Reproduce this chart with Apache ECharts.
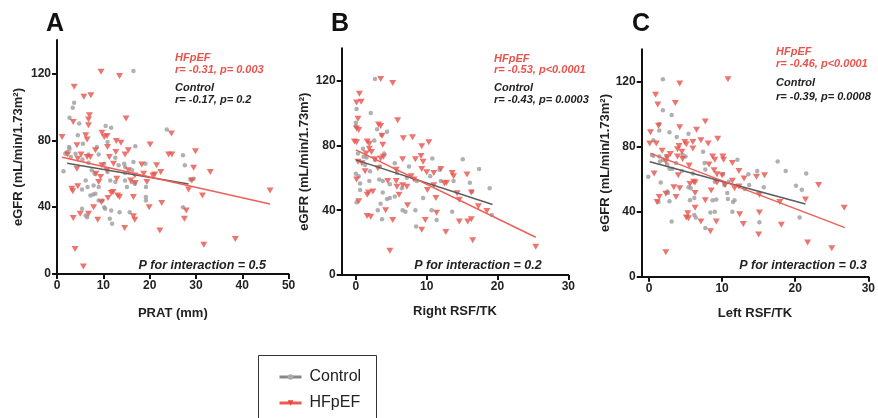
<!DOCTYPE html>
<html><head><meta charset="utf-8">
<script src="https://cdn.jsdelivr.net/npm/echarts@6/dist/echarts.min.js"></script>
<style>html,body{margin:0;padding:0;background:#fff}#c{width:878px;height:418px}</style>
</head><body><div id="c"></div>
<script>
// ---- data ----
const seriesNames = ['Control', 'HFpEF'];
const xNames = ['PRAT (mm)', 'Right RSF/TK', 'Left RSF/TK'];
const yName = 'eGFR (mL/min/1.73m²)';
const panelLetters = ['A', 'B', 'C'];
const xTickValues = [[0, 10, 20, 30, 40, 50], [0, 10, 20, 30], [0, 10, 20, 30]];
const yTickValues = [0, 40, 80, 120];

const hfA = [[1.1,82],[9.5,121],[13.5,118.5],[3.7,112],[5.8,106],[7.3,107],[14.9,93],[7.0,95],[6.8,92.5],[3.5,91],[6.8,89],[6.2,83],[6.5,80.5],[9.7,84.5],[10.2,82],[10.8,82.5],[10.9,76],[12.8,79.5],[13.8,78.5],[20.1,77.5],[24.7,84],[24.1,71.5],[24.8,71.5],[29.9,73.5],[21.5,65],[29.5,63.5],[33.1,61],[29.1,56],[28.4,50.5],[31.4,47],[46,50],[27.9,38],[27.5,33],[19.9,40],[22.6,42.5],[22.2,26],[31.7,17.5],[38.5,21],[3.9,15],[5.7,4.5],[3.5,33.5],[3.4,49.5],[3.2,51],[4.5,52.5],[5.0,36],[6.8,36],[7.9,40],[8.8,32.5],[9.6,43],[11.0,45.5],[11.7,48.5],[12.1,49],[13.1,47],[13.5,46],[14.6,27.5],[16.5,34.5],[16.8,32.5],[16.5,46],[12.9,57],[10.8,62],[9.4,58],[8.4,60],[9.0,55],[9.7,65],[11.3,70],[12.7,73],[14.7,71.5],[15.4,74],[15.4,62],[15.9,56],[16.8,59],[16.9,54.5],[18.7,60],[18.3,65.5],[19.4,55],[20.7,59],[21.1,59.5],[22.4,61],[4.3,77],[5.2,71.5],[4.3,63],[6.5,70],[7.2,70],[2.3,71.5],[4.5,69],[8.3,74],[12.2,66]];
const ctrlA = [[16.5,121.5],[3.7,102.5],[3.4,99.5],[2.7,93.5],[4.8,90],[4.5,83],[10.5,88.5],[11.7,87.5],[23.7,86.5],[5.6,78],[16.9,76.5],[2.6,76],[2.2,73],[2.7,75],[1.4,61.5],[1.8,72],[5.5,68.5],[6.8,71.5],[9.0,71.5],[8.6,76],[10.9,79],[6.8,66.5],[12.6,69.5],[13.3,65],[10.2,66],[10.9,61],[14.5,66],[14.7,64],[16.5,67],[14.7,60.5],[16.2,62],[19.1,66],[27.2,71],[27.6,65],[28.8,56.5],[29.5,57],[27.2,40],[19.2,44],[19.2,46],[19.2,52],[16.2,55],[16.8,54],[14.7,56],[15.1,52],[12.6,55],[11.5,56],[8.1,60],[7.9,53],[6.6,52],[6.2,56],[5.4,50.5],[7.2,47],[7.8,47.5],[8.3,48],[9,52],[9,44],[9.8,44],[10.2,40],[10.4,39],[11.7,38],[13.5,37],[15.7,37],[11.4,33],[11.9,30],[6.5,34],[6.2,35],[5.4,39],[3.0,70],[4.0,72],[7.5,62]];
const fitCtrlA = [[2.2,66.2],[28.4,53.8]];
const fitHfA = [[1.1,69.8],[46,41.9]];

const hfB = [[3.5,121],[5.2,118.5],[0.5,112],[0.75,107],[0.1,106.5],[0.3,96.5],[0.1,90.5],[0.4,89.5],[3.2,93],[3.5,92],[5.9,95.5],[-0.2,82.5],[0.1,82],[3.7,86],[3.8,80.5],[1.6,82.5],[1.9,81],[1.9,78],[2.2,76],[1.45,75],[0.3,70],[0.1,59],[0.4,45.5],[1.3,64],[2.7,71.5],[3.5,72],[3.9,73],[6.7,84.5],[8.0,85],[9.3,79.5],[10.3,82],[6.6,71.5],[8.4,71.5],[9.2,73.5],[9.5,70],[9.3,65.5],[10.0,63.5],[11.0,63],[12.0,65.5],[13.6,63],[13.8,61],[15.7,62],[8.2,59],[7.8,61],[5.7,65],[4.5,58],[5.7,58],[5.8,54.5],[6.6,55.5],[6.1,49.5],[7.2,54.5],[10.1,52.5],[11.0,55.5],[12.5,56.5],[12.8,57],[11.3,47.5],[14.3,50.5],[14.6,46.5],[16.3,51],[17.3,42.5],[18.5,39.5],[11.4,38.5],[7.3,43],[4.2,40],[1.6,36.5],[2.1,36],[1.6,49.5],[1.8,51],[2.4,51.5],[5.2,34],[9.8,34],[9.3,28],[12.7,26.5],[14.6,33],[15.8,33],[16.3,34.5],[16.5,21.5],[4.8,15],[25.4,17.5],[0.85,69],[3.1,66]];
const ctrlB = [[2.7,121],[0.1,102.5],[2.1,100],[0,94],[0,92],[3.0,90],[4.4,88.5],[3.6,86.5],[2.6,83],[1.0,78],[0.3,75],[1.1,73],[1.5,72.5],[4.0,75],[2.7,71],[3.4,67],[0,62.5],[0.4,61],[0.6,56.5],[1.9,58],[5.5,69],[7.5,67],[7.2,60],[8.6,58],[10.5,61],[10.8,72],[11.8,65],[12.0,58],[13.8,58],[15.1,71.5],[17.4,65.5],[16.1,57],[16.4,51.5],[18.9,53.5],[19.2,37],[13.6,39],[11.4,34],[10.7,40],[9.5,47.5],[8.4,40],[6.6,40],[7.0,39],[4.4,47],[4.8,47.5],[5.5,48.5],[3.8,51],[3.5,44],[3.1,40],[3.7,34.5],[0.1,45],[0.6,52.5],[8.5,30],[4.8,56],[5.8,63],[3.3,59],[3.8,58],[6.5,53.5],[2.0,64],[1.3,68]];
const fitCtrlB = [[0,71.1],[19.3,43.5]];
const fitHfB = [[0,77.3],[25.4,23.3]];

const hfC = [[10.8,121.5],[4.2,119],[0.9,112],[1.2,106],[3.6,107],[1.3,93],[4.2,92],[0.2,89],[7.7,95.5],[6.5,90.5],[0.1,82],[1.0,82],[4.1,80.5],[3.9,78.5],[4.9,83],[5.1,81.5],[6.0,83],[7.1,84],[8.1,82],[9.4,85],[6.0,79],[4.5,77],[1.8,77.5],[2.9,75.5],[2.5,73.5],[2.3,71],[3.9,74],[4.6,72.5],[5.5,68.5],[8.7,74],[9.0,72],[10.1,74],[10.2,72],[11.4,70],[8.2,69],[0.7,63.5],[4.0,62.5],[6.1,58.5],[6.3,58],[10.0,62.5],[11.4,59],[12.3,65],[13.0,60.5],[14.7,61.5],[15.8,62.5],[8.9,65.5],[9.3,63],[10.4,56.5],[12.3,55.5],[11.7,54.5],[9.3,58],[8.5,53],[7.7,47],[6.3,51.5],[5.6,57],[4.2,54.5],[3.4,55],[1.4,49],[1.1,46],[2.3,51],[3.7,49],[5.3,39],[5.1,36.5],[5.4,36],[6.3,42.5],[7.1,34],[9.2,34],[8.4,28],[12.4,38.5],[12.9,32.5],[15.1,39.5],[15.0,26],[15.1,50.5],[17.9,46],[18.1,32],[21.4,47.5],[23.2,56.5],[26.7,42.5],[21.7,21],[25.0,17.5],[2.3,15]];
const ctrlC = [[1.9,121.5],[1.9,102.5],[3.1,99.5],[1.4,94],[1.4,90],[2.8,89],[3.8,86],[5.4,88],[0.6,84],[-0.1,61.5],[0.4,75],[0.6,74.5],[1.4,74],[1.5,71],[1.9,72],[2.4,74],[2.5,69],[2.8,66.5],[3.2,66.5],[4.6,75],[5.0,74],[4.5,65],[3.7,70],[1.6,58],[1.3,46],[2.5,52.5],[2.6,51.5],[2.8,46.5],[3.1,34],[5.4,55],[5.7,54.5],[6.0,63.5],[7.4,77],[7.6,70],[7.7,66],[6.2,48.5],[5.6,47],[6.2,38],[6.4,36.5],[7.7,30],[8.4,39.5],[9.0,40],[8.7,47],[9.2,47.5],[9.0,58.5],[10.1,63],[10.9,58.5],[10.3,56.5],[11.5,46],[11.7,47],[10.8,47.8],[11.4,40],[12.1,72],[10.7,51.5],[13.1,54],[13.6,63],[13.7,56.5],[14.8,65],[15.7,55],[15.1,33.5],[17.6,71],[18.7,65],[20.1,56],[20.9,53.5],[21.5,63.5],[20.6,36.5]];
const fitCtrlC = [[0.1,70.8],[21.4,44.7]];
const fitHfC = [[0.2,75.9],[26.8,30.2]];

const annHf = ['r= -0.31, p= 0.003', 'r= -0.53, p<0.0001', 'r= -0.46, p<0.0001'];
const annCtrl = ['r= -0.17, p= 0.2', 'r= -0.43, p= 0.0003', 'r= -0.39, p= 0.0008'];
const annInteraction = ['P for interaction = 0.5', 'P for interaction = 0.2', 'P for interaction = 0.3'];

// ---- layout / style ----
const FONT = '"Liberation Sans", Arial, sans-serif';
const RED = '#E9534B', RED_LINE = '#EE5F57', GREY = '#9c9c9c', GREY_LINE = '#5c5c5c';
const TRI = 'path://M0,0L10,0L5,8Z';
const grids = [
  {left: 57, top: 40, width: 231.6, height: 234},
  {left: 341.7, top: 48.3, width: 226.6, height: 226.7},
  {left: 641.7, top: 49.3, width: 228.3, height: 227.4}
];
const xRanges = [[0, 50], [-2, 30], [-1, 30]];
const xNameGaps = [33, 30, 30];
const yNameGaps = [32, 31, 29];
const hfData = [hfA, hfB, hfC], ctrlData = [ctrlA, ctrlB, ctrlC];
const fitsCtrl = [fitCtrlA, fitCtrlB, fitCtrlC], fitsHf = [fitHfA, fitHfB, fitHfC];

const axisCommon = {
  axisLine: {show: true, onZero: false, lineStyle: {color: '#111', width: 2}},
  axisTick: {show: true, inside: false, length: 5, lineStyle: {color: '#111', width: 2}},
  splitLine: {show: false},
  nameTextStyle: {fontFamily: FONT, fontWeight: 'bold', fontSize: 13, color: '#222'}
};

const xAxis = [], yAxis = [], series = [];
for (let i = 0; i < 3; i++) {
  xAxis.push(Object.assign({}, axisCommon, {
    type: 'value', gridIndex: i, min: xRanges[i][0], max: xRanges[i][1],
    name: xNames[i], nameLocation: 'middle', nameGap: xNameGaps[i],
    axisTick: Object.assign({}, axisCommon.axisTick, {customValues: xTickValues[i]}),
    axisLabel: {customValues: xTickValues[i], fontFamily: FONT, fontWeight: 'bold', fontSize: 12, color: '#222', margin: 6}
  }));
  yAxis.push(Object.assign({}, axisCommon, {
    type: 'value', gridIndex: i, min: 0, max: 140,
    name: yName, nameLocation: 'middle', nameGap: yNameGaps[i], nameRotate: 90,
    axisTick: Object.assign({}, axisCommon.axisTick, {customValues: yTickValues}),
    axisLabel: {customValues: yTickValues, fontFamily: FONT, fontWeight: 'bold', fontSize: 12, color: '#222', margin: 6}
  }));
}
// regression lines first so the legend takes its icons from them
for (let i = 0; i < 3; i++) {
  series.push({name: 'Control', type: 'line', xAxisIndex: i, yAxisIndex: i, data: fitsCtrl[i],
    symbol: 'circle', showSymbol: false, color: GREY_LINE, lineStyle: {color: GREY_LINE, width: 1.5}, z: 5, silent: true});
  series.push({name: 'HFpEF', type: 'line', xAxisIndex: i, yAxisIndex: i, data: fitsHf[i],
    symbol: TRI, showSymbol: false, color: RED_LINE, lineStyle: {color: RED_LINE, width: 1.5}, z: 5, silent: true});
}
for (let i = 0; i < 3; i++) {
  series.push({name: 'Control', type: 'scatter', xAxisIndex: i, yAxisIndex: i, data: ctrlData[i],
    symbol: 'circle', symbolSize: 4.5, itemStyle: {color: GREY}, z: 2});
  series.push({name: 'HFpEF', type: 'scatter', xAxisIndex: i, yAxisIndex: i, data: hfData[i],
    symbol: TRI, symbolSize: [7, 6], itemStyle: {color: RED}, z: 3});
}

const letterPos = [[55, 24], [340, 24], [641, 24]];
const annX = [175, 494, 776];
const annY = [[58, 69.5, 88, 99.5], [59.3, 70, 88.3, 100], [52.3, 64.3, 83.3, 96.7]];
const interX = [266, 541.7, 866.7];
const graphic = [];
const itFont = 'italic bold 11px ' + FONT;
for (let i = 0; i < 3; i++) {
  graphic.push({type: 'text', x: letterPos[i][0], y: letterPos[i][1],
    style: {text: panelLetters[i], font: 'bold 25px ' + FONT, fill: '#111', align: 'center', verticalAlign: 'middle'}});
  graphic.push({type: 'text', x: annX[i], y: annY[i][0], style: {text: seriesNames[1], font: itFont, fill: RED, verticalAlign: 'middle'}});
  graphic.push({type: 'text', x: annX[i], y: annY[i][1], style: {text: annHf[i], font: itFont, fill: RED, verticalAlign: 'middle'}});
  graphic.push({type: 'text', x: annX[i], y: annY[i][2], style: {text: seriesNames[0], font: itFont, fill: '#222', verticalAlign: 'middle'}});
  graphic.push({type: 'text', x: annX[i], y: annY[i][3], style: {text: annCtrl[i], font: itFont, fill: '#222', verticalAlign: 'middle'}});
  graphic.push({type: 'text', x: interX[i], y: 265.7, style: {text: annInteraction[i], font: 'italic bold 12.5px ' + FONT, fill: '#222', align: 'right', verticalAlign: 'middle'}});
}
graphic.push({type: 'rect', shape: {x: 258.5, y: 355.5, width: 118, height: 80}, style: {fill: 'none', stroke: '#333', lineWidth: 1}});

const chart = echarts.init(document.getElementById('c'), null, {renderer: 'canvas'});
chart.setOption({
  animation: false,
  backgroundColor: '#fff',
  grid: grids,
  xAxis: xAxis,
  yAxis: yAxis,
  series: series,
  graphic: graphic,
  legend: {
    data: [
      {name: 'Control', lineStyle: {color: '#888888'}, itemStyle: {color: '#aaaaaa'}},
      {name: 'HFpEF', lineStyle: {color: '#EE5A52'}, itemStyle: {color: '#E9453D'}}
    ],
    orient: 'vertical', left: 273, top: 364,
    itemWidth: 22, itemHeight: 7, itemGap: 10,
    lineStyle: {width: 3},
    textStyle: {fontFamily: FONT, fontSize: 16, color: '#222', padding: [0, 0, 0, 3]},
    selectedMode: false
  }
});
</script></body></html>
